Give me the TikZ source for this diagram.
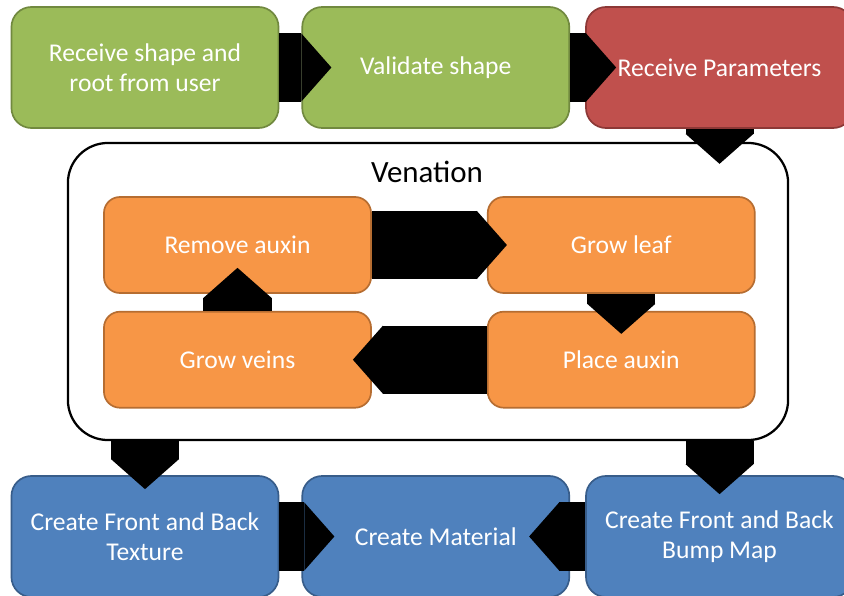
\documentclass[tikz,border=0pt]{standalone}
\usepackage{fontspec}
\setmainfont{Carlito}
\usetikzlibrary{arrows.meta,positioning,calc}
\definecolor{leafgreen}{HTML}{9BBB59}
\definecolor{leafgreendk}{HTML}{71893F}
\definecolor{paramred}{HTML}{C0504D}
\definecolor{paramreddk}{HTML}{8C3836}
\definecolor{auxorange}{HTML}{F79646}
\definecolor{auxorangedk}{HTML}{B66D31}
\definecolor{outblue}{HTML}{4F81BD}
\definecolor{outbluedk}{HTML}{385D8A}
\pgfdeclarelayer{back}
\pgfsetlayers{back,main}
\tikzset{
  % processteg
  pr/.style={rectangle,rounded corners=0.5cm,line width=1.2pt,text=white,
             align=center,inner sep=2pt,minimum width=6.675cm,minimum height=3.025cm,
             font=\fontsize{18.2}{21.3}\selectfont},
  prg/.style={pr,fill=leafgreen,draw=leafgreendk},
  prr/.style={pr,fill=paramred,draw=paramreddk},
  prb/.style={pr,fill=outblue,draw=outbluedk},
  po/.style={pr,fill=auxorange,draw=auxorangedk,rounded corners=0.4cm,
             minimum height=2.4cm},
  venbox/.style={rectangle,rounded corners=1cm,draw=black,fill=white,line width=1.6pt,
                 minimum width=18cm,minimum height=7.425cm},
  ventitle/.style={anchor=base,inner sep=0pt,font=\fontsize{22}{26}\selectfont},
  % blockpilar
  blk/.style={draw=black,line width=1.7cm,
              -{Triangle[length=0.75cm,width=1.7cm,line width=0pt]},
              shorten >=-#1},
  blk/.default=0.6cm,
}
\begin{document}
\begin{tikzpicture}[x=0.025cm,y=-0.025cm]
\useasboundingbox (0,0) rectangle (844,596);
  \node[prg] (rcv) at (145,67.5) {Receive shape and\\root from user};
  \node[prg,right=0.55cm of rcv] (val) {Validate shape};
  \node[prr,right=0.375cm of val] (prm) {Receive Parameters};
  % venation loop
  \node[po] (rem) at (237.5,245) {Remove auxin};
  \node[po,right=2.875cm of rem] (leaf) {Grow leaf};
  \node[po,below=0.425cm of leaf] (place) {Place auxin};
  \node[po,below=0.425cm of rem] (veins) {Grow veins};
  \begin{pgfonlayer}{back}
    \node[venbox] (ven) at (428,291.5) {};
  \end{pgfonlayer}
  \node[ventitle] (vtitle) at (427,183) {Venation};
  % output
  \node[prb] (tex) at (145,536.5) {Create Front and Back\\Texture};
  \node[prb,right=0.55cm of tex] (mat) {Create Material};
  \node[prb,right=0.375cm of mat] (bump) {Create Front and Back\\Bump Map};
  % pilar ovanpå rutorna
  \draw[blk=0.75cm] (rcv.east) -- (val.west);
  \draw[blk=0.775cm] (val.east) -- (prm.west);
  \draw[blk=0.55cm] (prm.south) -- (prm.south |- ven.north);
  \draw[blk=0.5cm] (rem.east) -- (leaf.west);
  \draw[blk=0.575cm] (leaf.south) -- (place.north);
  \draw[blk=0.475cm] (place.west) -- (veins.east);
  \draw[blk=0.65cm] (veins.north) -- (rem.south);
  \draw[blk=0.35cm] (tex.north |- ven.south) -- (tex.north);
  \draw[blk=0.475cm] (bump.north |- ven.south) -- (bump.north);
  \draw[blk=0.825cm] (tex.east) -- (mat.west);
  \draw[blk=1.025cm] (bump.west) -- (mat.east);
\end{tikzpicture}
\end{document}
